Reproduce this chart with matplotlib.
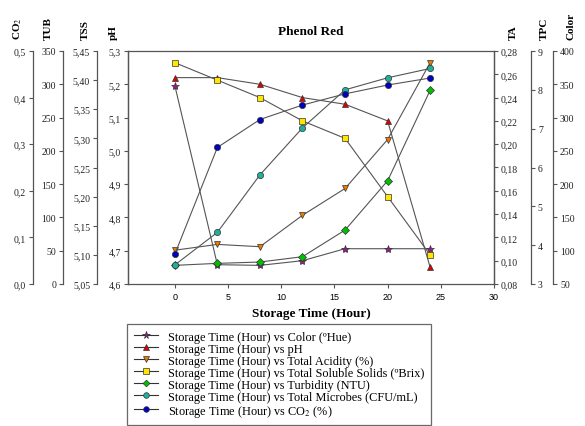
import numpy as np
import matplotlib
matplotlib.use("Agg")
import matplotlib.pyplot as plt
from matplotlib.lines import Line2D
from matplotlib.ticker import FuncFormatter

plt.rcParams['font.family'] = ['Liberation Serif', 'DejaVu Serif']
plt.rcParams['mathtext.fontset'] = 'stix'

# datos
tiempo = [0, 4, 8, 12, 16, 20, 24]
color_hue = [348, 79, 78, 85, 103, 103, 103]
ph = [5.22, 5.22, 5.20, 5.16, 5.14, 5.09, 4.65]
acidez = [0.109, 0.114, 0.112, 0.139, 0.162, 0.204, 0.270]
tss = [5.43, 5.40, 5.37, 5.33, 5.30, 5.20, 5.10]
turbidez = [28, 31, 33, 41, 81, 155, 291]
tpc = [3.49, 4.33, 5.81, 7.02, 8.00, 8.31, 8.55]
co2 = [0.064, 0.293, 0.353, 0.384, 0.408, 0.427, 0.442]

etiquetas = [
    "Storage Time (Hour) vs Color (ºHue)",
    "Storage Time (Hour) vs pH",
    "Storage Time (Hour) vs Total Acidity (%)",
    "Storage Time (Hour) vs Total Soluble Solids (ºBrix)",
    "Storage Time (Hour) vs Turbidity (NTU)",
    "Storage Time (Hour) vs Total Microbes (CFU/mL)",
    "Storage Time (Hour) vs CO$_2$ (%)",
]

ESPINA = '#555555'
LINEA = '#555555'


def coma(dec):
    return FuncFormatter(lambda v, p: f"{v:.{dec}f}".replace('.', ','))


fig = plt.figure(figsize=(5.85, 4.27), dpi=100)
ax = fig.add_axes([128 / 585, 1 - 285 / 427, 366 / 585, 233 / 427])

for s in ax.spines.values():
    s.set_color(ESPINA)
    s.set_linewidth(0.9)
ax.set_xlim(-4.4, 30)
ax.set_xticks(np.arange(0, 31, 5))
ax.tick_params(axis='x', direction='out', length=3, width=0.8, color=ESPINA,
               labelsize=6.5, pad=3)
for t in ax.get_xticklabels():
    t.set_family('Liberation Sans')
ax.set_xlabel("Storage Time (Hour)", fontsize=9.5, fontweight='bold', labelpad=4)
ax.set_title("Phenol Red", fontsize=9.5, fontweight='bold', pad=12)
ax.set_yticks([])

# (datos, color, marcador, lado, desplazamiento en pt, limites, ticks, decimales, etiqueta)
series = [
    (color_hue, '#9a1a8e', '*', 'right', 42.5, (50, 400), np.arange(50, 401, 50), 0, 'Color'),
    (ph, '#e00000', '^', 'left', 0, (4.6, 5.3), np.arange(4.6, 5.31, 0.1), 1, 'pH'),
    (acidez, '#ee7a00', 'v', 'right', 0, (0.08, 0.28), np.arange(0.08, 0.281, 0.02), 2, 'TA'),
    (tss, '#ffe600', 's', 'left', 22.3, (5.05, 5.45), np.arange(5.05, 5.451, 0.05), 2, 'TSS'),
    (turbidez, '#00c000', 'D', 'left', 46.8, (0, 350), np.arange(0, 351, 50), 0, 'TUB'),
    (tpc, '#20b098', 'o', 'right', 26.6, (3, 9), np.arange(3, 10, 1), 0, 'TPC'),
    (co2, '#0000c0', 'o', 'left', 68.4, (0, 0.5), np.arange(0, 0.51, 0.1), 1, 'CO$_2$'),
]

tamanos = {'*': 6, '^': 4.5, 'v': 4.5, 's': 4.5, 'D': 3.8, 'o': 4.5}

manejadores = []
for (vals, col, mk, lado, off, lim, ticks, dec, nombre) in series:
    tw = ax.twinx()
    for k, s in tw.spines.items():
        s.set_visible(k == lado)
        s.set_color(ESPINA)
        s.set_linewidth(0.9)
    tw.spines[lado].set_position(('outward', off))
    tw.yaxis.set_ticks_position(lado)
    tw.yaxis.set_label_position(lado)
    tw.set_ylim(*lim)
    tw.set_yticks(ticks)
    tw.yaxis.set_major_formatter(coma(dec))
    tw.tick_params(axis='y', direction='out', length=3, width=0.8, color=ESPINA,
                   labelsize=7, pad=2, labelcolor='#222222')
    tw.plot(tiempo, vals, color=LINEA, lw=0.8, marker=mk, ms=tamanos[mk],
            mfc=col, mec='#333333', mew=0.5, clip_on=False)
    manejadores.append(Line2D([], [], color='#333333', lw=0.8, marker=mk,
                              ms=tamanos[mk] * 0.9, mfc=col, mec='#333333', mew=0.5))

# titulos de los ejes, encima de cada espina
pos_titulos = [('CO$_2$', 18), ('TUB', 48), ('TSS', 85), ('pH', 113),
               ('TA', 513), ('TPC', 544), ('Color', 571)]
for txt, px in pos_titulos:
    fig.text(px / 585, 1 - 40 / 427, txt, rotation=90, ha='center', va='bottom',
             fontsize=8, fontweight='bold')

ley = fig.legend(manejadores, etiquetas, loc='upper left',
                 bbox_to_anchor=(127 / 585, 1 - 325 / 427), fontsize=8.8,
                 frameon=True, fancybox=False, handlelength=2.0, handletextpad=0.8,
                 labelspacing=0.0, borderpad=0.55, borderaxespad=0)
ley.get_frame().set_edgecolor('#444444')
ley.get_frame().set_linewidth(0.9)

fig.savefig("out.png", dpi=100)
